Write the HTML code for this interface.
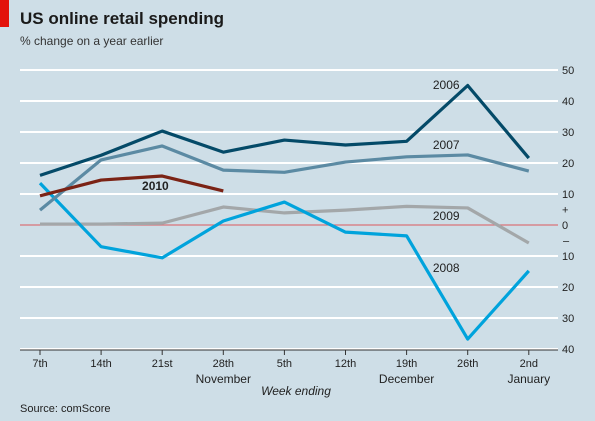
<!DOCTYPE html>
<html><head><meta charset="utf-8"><style>
body{margin:0;background:#cedee7;}
svg{display:block;font-family:"Liberation Sans",sans-serif;}
</style></head><body>
<svg id="c" width="595" height="421">
<rect x="0" y="0" width="595" height="421" fill="#cedee7"/>
<rect x="0" y="0" width="9" height="27" fill="#e3120b"/>
<text x="20" y="24" font-size="17" font-weight="bold" fill="#1a1a1a">US online retail spending</text>
<text x="20" y="45" font-size="12" fill="#333">% change on a year earlier</text>
<g id="grid"></g>
<g id="series"></g>
<text x="296" y="395" font-size="12" font-style="italic" text-anchor="middle" fill="#222">Week ending</text>
<text x="20" y="412" font-size="11" fill="#222">Source: comScore</text>
</svg>
<script>
const categories=["7th","14th","21st","28th","5th","12th","19th","26th","2nd"];
const months=[["November",3],["December",6],["January",8]];
const yTicks=[50,40,30,20,10,0,10,20,30,40];
const s2006=[16,22.5,30.3,23.5,27.4,25.8,27,45,21.6];
const s2007=[4.8,21,25.5,17.7,17,20.3,22,22.6,17.4];
const s2008=[13.5,-7,-10.6,1.3,7.4,-2.3,-3.5,-36.8,-14.8];
const s2009=[0.3,0.3,0.6,5.8,3.9,4.8,6,5.5,-5.8];
const s2010=[9.4,14.5,15.8,11];
const svg=document.getElementById('c'),NS="http://www.w3.org/2000/svg";
const x=i=>40+i*61.1;
const y=v=>225-v*3.1;
function mk(t,a,p){const e=document.createElementNS(NS,t);for(const k in a)e.setAttribute(k,a[k]);(p||svg).appendChild(e);return e;}
const grid=document.getElementById('grid'),ser=document.getElementById('series');
const tickVals=[50,40,30,20,10,0,-10,-20,-30,-40];
tickVals.forEach((v,i)=>{
 if(v!==0){const l=mk('line',{x1:20,x2:558,y1:y(v),y2:y(v),stroke:'#fff','stroke-width':2},grid);
 
 }
 const t=mk('text',{x:562,y:y(v)+4,'font-size':11,fill:'#222'},grid);t.textContent=yTicks[i];
 
 
});
const pl=mk('text',{x:562,y:y(5)+4,'font-size':11,fill:'#222'},grid);pl.textContent='+';


const mi=mk('text',{x:563,y:y(-5)+4,'font-size':11,fill:'#222'},grid);mi.textContent='–';


const zl=mk('line',{x1:20,x2:558,y1:y(0),y2:y(0),stroke:'#d9737a','stroke-width':1.2},grid);


const ax=mk('line',{x1:20,x2:558,y1:350,y2:350,stroke:'#333','stroke-width':1},grid);


categories.forEach((c,i)=>{
 const tk=mk('line',{x1:x(i),x2:x(i),y1:350,y2:355,stroke:'#333'},grid);
 
 
 const t=mk('text',{x:x(i),y:367,'font-size':11,'text-anchor':'middle',fill:'#222'},grid);t.textContent=c;
 
 
});
months.forEach(m=>{
 const t=mk('text',{x:x(m[1]),y:383,'font-size':12,'text-anchor':'middle',fill:'#222'},grid);t.textContent=m[0];
 
 
});
// [series, colour, name, label index-position, label value-position, bold]
const defs=[[s2009,'#a3a7a9','2009',6.43,1.6,false],[s2008,'#00a3dc','2008',6.43,-15.2,false],[s2007,'#5b8aa3','2007',6.43,24.5,false],[s2006,'#044a68','2006',6.43,43.9,false],[s2010,'#7b2315','2010',1.67,11.3,true]];
defs.forEach(d=>{
 const p=mk('polyline',{points:d[0].map((v,i)=>x(i)+','+y(v)).join(' '),fill:'none',stroke:d[1],'stroke-width':3.2,'stroke-linejoin':'round'},ser);
 
 
 const t=mk('text',{x:x(d[3]),y:y(d[4]),'font-size':12,fill:'#222','font-weight':d[5]?'bold':'normal'},ser);t.textContent=d[2];
 
 
});
</script>
</body></html>
